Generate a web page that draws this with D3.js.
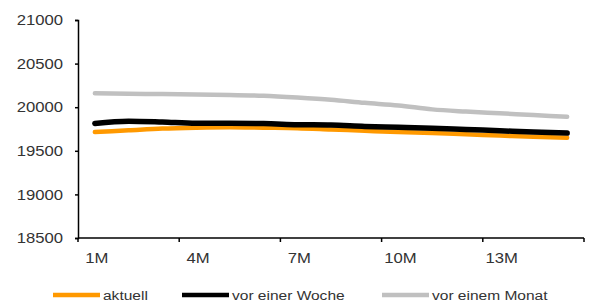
<!DOCTYPE html>
<meta charset="utf-8">
<style>
body { margin: 0; background: #fff; }
text { font-family: "Liberation Sans", Arial, sans-serif; fill: #333; }
.line { fill: none; stroke-linecap: round; }
</style>
<svg width="598" height="307"></svg>
<script src="https://d3js.org/d3.v7.min.js"></script>
<script>
var categories = ["1M","2M","3M","4M","5M","6M","7M","8M","9M","10M","11M","12M","13M","14M","15M"];
var tickLabels = ["1M","4M","7M","10M","13M"];
var yTicks = [18500, 19000, 19500, 20000, 20500, 21000];

var aktuell   = [19715,19735,19755,19765,19770,19765,19760,19745,19730,19715,19705,19690,19675,19660,19650];
var vorWoche  = [19813,19840,19830,19815,19815,19812,19800,19795,19780,19770,19760,19745,19730,19715,19703];
var vorMonat  = [20160,20155,20150,20145,20140,20130,20110,20085,20050,20020,19975,19950,19930,19910,19890];

var seriesNames = ["aktuell", "vor einer Woche", "vor einem Monat"];
var colors = ["#ff9900", "#000000", "#c0c0c0"];

var svg = d3.select("svg"),
    margin = {top: 20, right: 14, bottom: 69, left: 78},
    width = 598 - margin.left - margin.right,
    height = 307 - margin.top - margin.bottom,
    g = svg.append("g").attr("transform", "translate(" + margin.left + "," + margin.top + ")");

var stretch = 1.15;

var x = d3.scaleBand().domain(categories).range([0, width]),
    y = d3.scaleLinear().domain([18500, 21000]).range([height, 0]);

var line = d3.line()
    .curve(d3.curveMonotoneX)
    .x(function(d, i) { return x(categories[i]) + x.bandwidth() / 2; })
    .y(function(d) { return y(d); });

// y axis
var yAxis = g.append("g")
    .call(d3.axisLeft(y).tickValues(yTicks).tickSize(3).tickPadding(12).tickFormat(d3.format("d")));
yAxis.select(".domain").attr("stroke", "#000").attr("stroke-width", 1.5);
yAxis.selectAll(".tick line").attr("stroke", "#000").attr("stroke-width", 1.5);
yAxis.selectAll(".tick text")
    .style("font-size", "14.5px")
    .attr("fill", "#333")
    .attr("x", -15 / stretch)
    .attr("transform", "scale(" + stretch + ",1)");

// x axis: ticks on category boundaries, labels every third category
var bounds = d3.range(0, categories.length + 1, 3);
var xb = g.append("g").attr("transform", "translate(0," + height + ")");
xb.append("line").attr("x1", 0).attr("x2", width).attr("stroke", "#000").attr("stroke-width", 1.5);
xb.selectAll(".tk").data(bounds).enter().append("line")
    .attr("x1", function(d) { return d * x.step(); })
    .attr("x2", function(d) { return d * x.step(); })
    .attr("y1", 0).attr("y2", 4)
    .attr("stroke", "#000").attr("stroke-width", 1.5);
xb.selectAll(".lbl").data(tickLabels).enter().append("text")
    .attr("transform", function(d) {
      return "translate(" + (x(d) + x.bandwidth() / 2 + 2) + ",25) scale(" + stretch + ",1)";
    })
    .attr("text-anchor", "middle")
    .style("font-size", "14.5px")
    .text(function(d) { return d; });

// series lines
var data = [aktuell, vorWoche, vorMonat];
var widths = [4.5, 5.5, 4.5];
[2, 0, 1].forEach(function(k) {
  g.append("path")
      .attr("class", "line")
      .attr("d", line(data[k]))
      .attr("stroke", colors[k])
      .attr("stroke-width", widths[k]);
});

// legend
var legX = [53, 182, 382];
var leg = svg.append("g").attr("transform", "translate(0,295)");
seriesNames.forEach(function(name, k) {
  leg.append("line")
      .attr("x1", legX[k]).attr("x2", legX[k] + 47)
      .attr("stroke", colors[k]).attr("stroke-width", 4.5);
  leg.append("text")
      .attr("transform", "translate(" + (legX[k] + 50) + ",5) scale(" + stretch + ",1)")
      .style("font-size", "13.5px")
      .text(name);
});
</script>
